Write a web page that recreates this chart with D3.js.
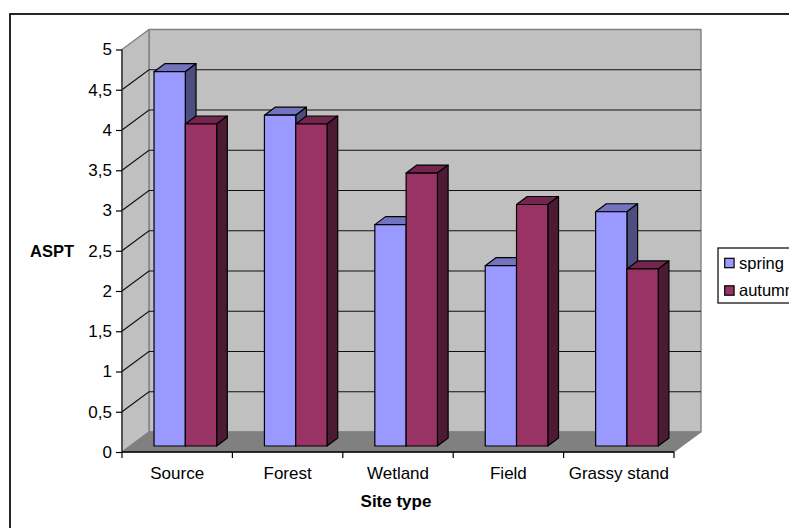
<!DOCTYPE html>
<html>
<head>
<meta charset="utf-8">
<script src="https://cdn.jsdelivr.net/npm/d3@7"></script>
<style>
html, body { margin: 0; padding: 0; background: #fff; overflow: hidden; }
svg { display: block; }
text { font-family: "Liberation Sans", Arial, sans-serif; fill: #000; }
</style>
</head>
<body>
<svg width="789" height="528"></svg>
<script>
const categories = ["Source", "Forest", "Wetland", "Field", "Grassy stand"];
const seriesNames = ["spring", "autumn"];
const spring = [4.65, 4.11, 2.75, 2.24, 2.91];
const autumn = [4.0, 4.0, 3.39, 3.0, 2.2];
const yTicks = [0, 0.5, 1, 1.5, 2, 2.5, 3, 3.5, 4, 4.5, 5];
const yTickLabels = ["0", "0,5", "1", "1,5", "2", "2,5", "3", "3,5", "4", "4,5", "5"];

const colors = {
    spring: { front: "#9999ff", top: "#7373bf", side: "#4d4d80" },
    autumn: { front: "#993366", top: "#73264d", side: "#4d1a33" }
};

const svg = d3.select("svg");

// front plane of the 3d box
const plot = { left: 122, right: 674, top: 49.5, bottom: 452 };
// how far the back wall is pushed away
const depth = { dx: 27, dy: -20 };
// how far the bars stand from the front plane, and their own depth
const barShift = { dx: 0, dy: -6 };
const barDepth = { dx: 10.7, dy: -8 };

const x = d3.scaleBand().domain(categories).range([plot.left, plot.right]);
const xInner = d3.scaleBand().domain(seriesNames)
    .range([0, x.bandwidth()]).paddingInner(0).paddingOuter(0.7636).align(0.67);
const y = d3.scaleLinear().domain([0, 5]).range([plot.bottom, plot.top]);

function poly(points, fill, stroke, sw) {
    return svg.append("polygon")
        .attr("points", points.map(p => p.join(",")).join(" "))
        .attr("fill", fill)
        .attr("stroke", stroke || "none")
        .attr("stroke-width", sw || 1)
        .attr("stroke-linejoin", "round");
}

// Outer frame, right and bottom sides run off the page
svg.append("rect")
    .attr("x", 10).attr("y", 14)
    .attr("width", 820).attr("height", 560)
    .attr("fill", "#fff").attr("stroke", "#000").attr("stroke-width", 1.7);

// Walls
const backLeft = plot.left + depth.dx, backRight = plot.right + depth.dx;
const backTop = plot.top + depth.dy, backBottom = plot.bottom + depth.dy;
poly([[backLeft, backTop], [backRight, backTop], [backRight, backBottom], [backLeft, backBottom]], "#c0c0c0", "#808080", 1.4);
poly([[plot.left, plot.top], [backLeft, backTop], [backLeft, backBottom], [plot.left, plot.bottom]], "#c0c0c0", "#808080", 1.4);
poly([[plot.left, plot.bottom], [backLeft, backBottom], [backRight, backBottom], [plot.right, plot.bottom]], "#808080", "#808080", 1);

// Gridlines on both walls
yTicks.filter(d => d > 0 && d < 5).forEach(d => {
    svg.append("polyline")
        .attr("points", [[plot.left, y(d)], [backLeft, y(d) + depth.dy], [backRight, y(d) + depth.dy]].map(p => p.join(",")).join(" "))
        .attr("fill", "none").attr("stroke", "#111").attr("stroke-width", 1.2);
});

// Bars, back faces first, spring before autumn
const barBase = plot.bottom + barShift.dy;
categories.forEach((c, i) => {
    seriesNames.forEach((s, j) => {
        const v = (j === 0 ? spring : autumn)[i];
        const x0 = x(c) + xInner(s);
        const x1 = x0 + xInner.bandwidth();
        const yTop = y(v) + barShift.dy;
        const col = colors[s];
        poly([[x0, yTop], [x0 + barDepth.dx, yTop + barDepth.dy], [x1 + barDepth.dx, yTop + barDepth.dy], [x1, yTop]], col.top, "#000", 1.2);
        poly([[x1, yTop], [x1 + barDepth.dx, yTop + barDepth.dy], [x1 + barDepth.dx, barBase + barDepth.dy], [x1, barBase]], col.side, "#000", 1.2);
        poly([[x0, yTop], [x1, yTop], [x1, barBase], [x0, barBase]], col.front, "#000", 1.2);
    });
});

// Axes
const yAxis = d3.axisLeft(y).tickValues(yTicks)
    .tickFormat((d, i) => yTickLabels[i]).tickSize(6).tickPadding(4);
const yG = svg.append("g").attr("transform", `translate(${plot.left},0)`).call(yAxis);
yG.select(".domain").attr("stroke", "#222").attr("stroke-width", 1.2).attr("d", `M0,${plot.top}V${plot.bottom}`);
yG.selectAll("line").attr("stroke", "#000").attr("stroke-width", 1.2);
yG.selectAll("text").style("font-size", "17px").style("font-family", null);

const xAxis = d3.axisBottom(x).tickValues(categories).tickSize(0).tickPadding(15);
const xG = svg.append("g").attr("transform", `translate(0,${plot.bottom})`).call(xAxis);
xG.select(".domain").attr("stroke", "#000").attr("stroke-width", 1.3).attr("d", `M${plot.left},0H${plot.right}`);
xG.selectAll("text").style("font-size", "17px").style("font-family", null);

// Ticks sit between the categories
const xEdges = categories.map(c => x(c)).concat(plot.right);
svg.selectAll(".xtick").data(xEdges).enter().append("line")
    .attr("class", "xtick")
    .attr("x1", d => d).attr("x2", d => d)
    .attr("y1", plot.bottom).attr("y2", plot.bottom + 6)
    .attr("stroke", "#000").attr("stroke-width", 1.2);

// Axis titles
svg.append("text").attr("x", 52).attr("y", 256.7)
    .attr("text-anchor", "middle").attr("font-weight", "bold").attr("font-size", 16.5).text("ASPT");
svg.append("text").attr("x", 396).attr("y", 506.5)
    .attr("text-anchor", "middle").attr("font-weight", "bold").attr("font-size", 17).text("Site type");

// Legend, cut off by the page edge in the original
const legend = svg.append("g");
legend.append("rect").attr("x", 718).attr("y", 248).attr("width", 120).attr("height", 55)
    .attr("fill", "#fff").attr("stroke", "#000").attr("stroke-width", 1.2);
seriesNames.forEach((s, i) => {
    const ly = 263 + i * 27.5;
    legend.append("rect").attr("x", 724.7).attr("y", ly - 4.7).attr("width", 9.4).attr("height", 9.4)
        .attr("fill", colors[s].front).attr("stroke", "#000").attr("stroke-width", 1.2);
    legend.append("text").attr("x", 739).attr("y", ly + 5.6).attr("font-size", 16.5).text(s);
});
</script>
</body>
</html>
